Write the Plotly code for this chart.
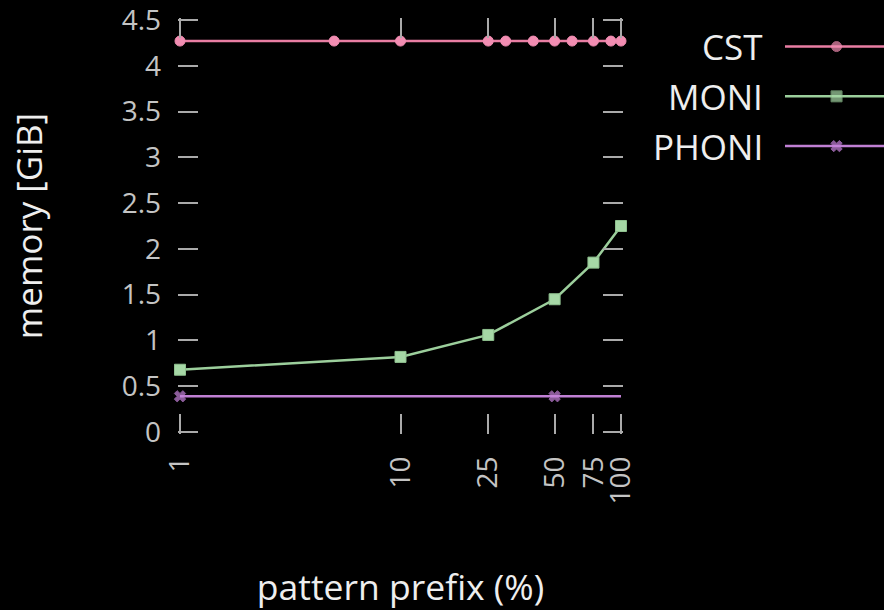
import plotly.graph_objects as go

# Memory usage per index, by pattern prefix length (%)
cst_x = [1, 5, 10, 25, 30, 40, 50, 60, 75, 90, 100]
cst_y = [4.27] * len(cst_x)

moni_x = [1, 10, 25, 50, 75, 100]
moni_y = [0.68, 0.82, 1.06, 1.45, 1.85, 2.25]

phoni_x = [1, 50, 100]
phoni_y = [0.39, 0.39, 0.39]
phoni_marker_sizes = [10, 10, 0]

x_ticks = [1, 10, 25, 50, 75, 100]
y_tick_step = 0.5

series_names = ["CST", "MONI", "PHONI"]
line_colors = ["#e97ea3", "#9ccf9c", "#c080d4"]
marker_colors = ["#f28db2", "#a6d8a6", "#c683dc"]
marker_edges = ["#f28db2", "#8fc08f", "#c683dc"]
marker_symbols = ["circle", "square", "x"]
marker_sizes = [10, 11, 10]

FONT = "Open Sans"
TICK_COLOR = "#aaaaaa"
LABEL_COLOR = "#c4c4c4"
TEXT_COLOR = "#eeeeee"

W, H = 884, 610
# plot region in pixels (left, right, top, bottom)
PL, PR, PT, PB = 180, 621, 20, 432
# small overhang so the end ticks sit just inside the axis area
PAD = 2.0
# key region in pixels
KL, KR, KT, KB = 785, 884, 46.7, 146.0

x_lo, x_hi = 0.0, 2.0          # log10 of 1 and 100
y_lo, y_hi = 0.0, 4.5
x_per_px = (x_hi - x_lo) / (PR - PL)
y_per_px = (y_hi - y_lo) / (PB - PT)

fig = go.Figure()

data = [(cst_x, cst_y, None), (moni_x, moni_y, None), (phoni_x, phoni_y, phoni_marker_sizes)]
for i, (xs, ys, sizes) in enumerate(data):
    fig.add_trace(go.Scatter(
        x=xs, y=ys, name=series_names[i], mode="lines+markers",
        line=dict(color=line_colors[i], width=2.5),
        marker=dict(symbol=marker_symbols[i], color=marker_colors[i],
                    size=sizes if sizes else marker_sizes[i],
                    line=dict(width=1, color=marker_edges[i])),
        cliponaxis=False, showlegend=False,
    ))

# Key: a small axis to the right holding one sample line per series
for i, name in enumerate(series_names):
    fig.add_trace(go.Scatter(
        x=[0, 0.5, 1], y=[i, i, i], mode="lines+markers",
        line=dict(color=line_colors[i], width=2.5),
        marker=dict(symbol=marker_symbols[i], color=marker_colors[i],
                    size=[0, marker_sizes[i], 0],
                    line=dict(width=1, color=marker_edges[i])),
        xaxis="x2", yaxis="y2", showlegend=False, hoverinfo="skip",
    ))
    fig.add_annotation(
        x=0, y=i, xref="x2", yref="y2", text=name, showarrow=False,
        xanchor="right", yanchor="middle", xshift=-20,
        font=dict(family=FONT, size=35, color=TEXT_COLOR),
    )

key_pad = 25
fig.update_layout(
    width=W, height=H,
    margin=dict(l=0, r=0, t=0, b=0, autoexpand=False),
    paper_bgcolor="#000000", plot_bgcolor="#000000",
    font=dict(family=FONT, color=LABEL_COLOR),
    xaxis=dict(
        domain=[(PL - PAD) / W, (PR + PAD) / W], automargin=False,
        type="log", range=[x_lo - PAD * x_per_px, x_hi + PAD * x_per_px],
        tickvals=x_ticks, ticktext=[str(v) for v in x_ticks],
        ticks="inside", ticklen=20, tickwidth=1.5, tickcolor=TICK_COLOR,
        mirror="ticks", showline=False, showgrid=False, zeroline=False,
        tickangle=-90, tickfont=dict(size=28, color=LABEL_COLOR),
        ticklabelstandoff=16,
        title=dict(text="pattern prefix (%)", font=dict(size=35.5, color=TEXT_COLOR), standoff=78),
    ),
    yaxis=dict(
        domain=[1 - (PB + PAD) / H, 1 - (PT - PAD) / H], automargin=False,
        range=[y_lo - PAD * y_per_px, y_hi + PAD * y_per_px],
        tickmode="linear", tick0=0, dtick=y_tick_step,
        ticks="inside", ticklen=20, tickwidth=1.5, tickcolor=TICK_COLOR,
        mirror="ticks", showline=False, showgrid=False, zeroline=False,
        tickfont=dict(size=28, color=LABEL_COLOR), ticklabeloverflow="allow",
        ticklabelstandoff=16,
        title=dict(text="memory [GiB]", font=dict(size=35, color=TEXT_COLOR), standoff=68),
    ),
    xaxis2=dict(domain=[KL / W, KR / W], range=[0, 0.96], visible=False, anchor="y2"),
    yaxis2=dict(domain=[1 - (KB + key_pad) / H, 1 - (KT - key_pad) / H],
                range=[2.5, -0.5], visible=False, anchor="x2"),
)

fig.write_html("out.html")
